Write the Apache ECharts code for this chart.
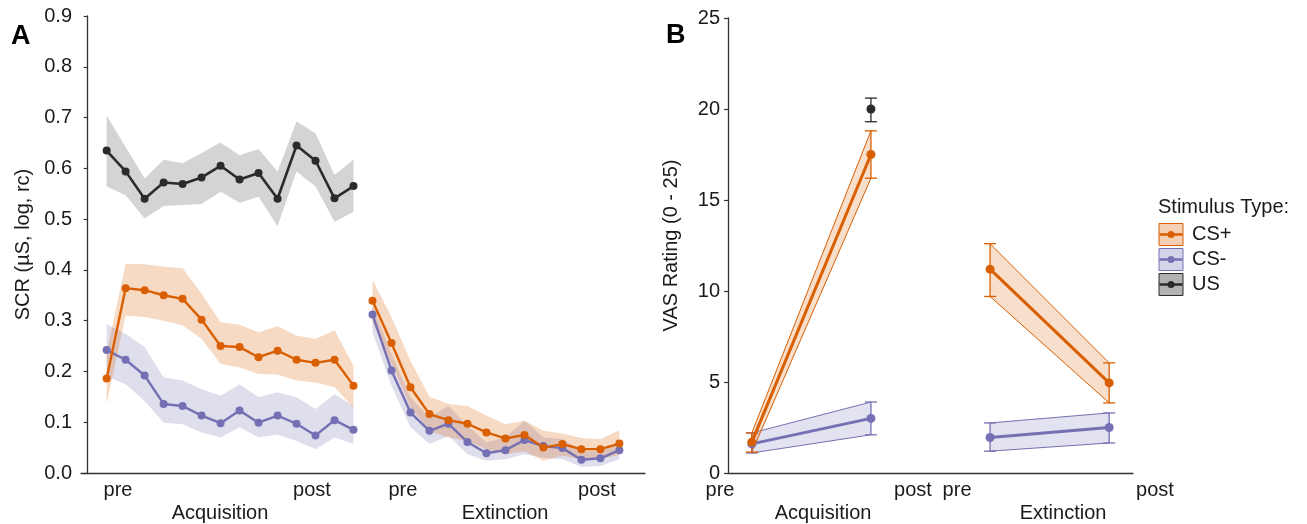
<!DOCTYPE html>
<html>
<head>
<meta charset="utf-8">
<title>SCR and VAS ratings</title>
<script src="https://cdn.jsdelivr.net/npm/echarts@6/dist/echarts.min.js"></script>
<style>
  html, body { margin: 0; padding: 0; background: #ffffff; }
  #chart { width: 1307px; height: 524px; }
</style>
</head>
<body>
<div id="chart"></div>
<script>
// ---------- Panel A: SCR per trial ----------
const acqTrials = [1, 2, 3, 4, 5, 6, 7, 8, 9, 10, 11, 12, 13, 14];
const extTrials = [15, 16, 17, 18, 19, 20, 21, 22, 23, 24, 25, 26, 27, 28];

const scrUsAcq     = [0.635, 0.594, 0.540, 0.572, 0.569, 0.582, 0.605, 0.578, 0.591, 0.540, 0.645, 0.615, 0.541, 0.565];
const scrUsAcqLo   = [0.564, 0.547, 0.501, 0.526, 0.528, 0.530, 0.554, 0.532, 0.544, 0.486, 0.594, 0.564, 0.495, 0.514];
const scrUsAcqHi   = [0.704, 0.642, 0.580, 0.617, 0.610, 0.630, 0.651, 0.626, 0.638, 0.594, 0.692, 0.669, 0.587, 0.617];

const scrCsPlusAcq   = [0.186, 0.364, 0.360, 0.350, 0.343, 0.302, 0.250, 0.248, 0.228, 0.241, 0.223, 0.217, 0.223, 0.172];
const scrCsPlusAcqLo = [0.136, 0.310, 0.307, 0.300, 0.291, 0.264, 0.215, 0.208, 0.195, 0.194, 0.182, 0.178, 0.169, 0.129];
const scrCsPlusAcqHi = [0.237, 0.412, 0.411, 0.406, 0.403, 0.353, 0.297, 0.292, 0.277, 0.289, 0.271, 0.264, 0.281, 0.211];

const scrCsMinusAcq   = [0.242, 0.223, 0.192, 0.136, 0.132, 0.113, 0.098, 0.123, 0.099, 0.113, 0.097, 0.074, 0.104, 0.085];
const scrCsMinusAcqLo = [0.190, 0.175, 0.142, 0.099, 0.096, 0.080, 0.070, 0.090, 0.070, 0.076, 0.063, 0.047, 0.070, 0.057];
const scrCsMinusAcqHi = [0.293, 0.274, 0.248, 0.188, 0.182, 0.165, 0.152, 0.175, 0.149, 0.159, 0.149, 0.126, 0.155, 0.132];

const scrCsPlusExt   = [0.339, 0.256, 0.169, 0.116, 0.104, 0.097, 0.080, 0.068, 0.075, 0.050, 0.057, 0.047, 0.047, 0.058];
const scrCsPlusExtLo = [0.297, 0.215, 0.129, 0.083, 0.070, 0.063, 0.047, 0.037, 0.043, 0.024, 0.034, 0.027, 0.027, 0.036];
const scrCsPlusExtHi = [0.381, 0.307, 0.221, 0.150, 0.136, 0.132, 0.113, 0.096, 0.103, 0.083, 0.078, 0.069, 0.067, 0.084];

const scrCsMinusExt   = [0.312, 0.202, 0.119, 0.083, 0.097, 0.061, 0.039, 0.045, 0.065, 0.053, 0.049, 0.026, 0.029, 0.045];
const scrCsMinusExtLo = [0.277, 0.172, 0.090, 0.057, 0.073, 0.037, 0.024, 0.027, 0.037, 0.030, 0.027, 0.012, 0.014, 0.027];
const scrCsMinusExtHi = [0.330, 0.235, 0.149, 0.109, 0.132, 0.093, 0.060, 0.070, 0.103, 0.070, 0.067, 0.043, 0.043, 0.060];

const scrTickPos    = [1.6, 11.81, 16.6, 26.82];
const scrTickText   = ['pre', 'post', 'pre', 'post'];
const scrPhasePos   = [6.97, 21.98];
const scrPhaseText  = ['Acquisition', 'Extinction'];

// ---------- Panel B: VAS ratings ----------
const vasAcqPos = [1, 2];
const vasExtPos = [3, 4];

const vasCsPlusAcq    = [1.7, 17.5];
const vasCsPlusAcqLo  = [1.15, 16.2];
const vasCsPlusAcqHi  = [2.2, 18.8];
const vasCsMinusAcq   = [1.6, 3.0];
const vasCsMinusAcqLo = [1.1, 2.1];
const vasCsMinusAcqHi = [2.2, 3.9];

const vasUsPos = [2];
const vasUs    = [20.0];
const vasUsLo  = [19.3];
const vasUsHi  = [20.6];

const vasCsPlusExt    = [11.2, 4.95];
const vasCsPlusExtLo  = [9.7, 3.85];
const vasCsPlusExtHi  = [12.6, 6.05];
const vasCsMinusExt   = [1.95, 2.5];
const vasCsMinusExtLo = [1.2, 1.65];
const vasCsMinusExtHi = [2.75, 3.3];

const vasTickPos   = [0.733, 2.353, 2.723, 4.385];
const vasTickText  = ['pre', 'post', 'pre', 'post'];
const vasPhasePos  = [1.598, 3.613];
const vasPhaseText = ['Acquisition', 'Extinction'];

// ---------- Legend ----------
const legendTitle = 'Stimulus Type:';
const legendNames = ['CS+', 'CS-', 'US'];

// ---------- Styling ----------
const FONT = "'Liberation Sans', Arial, sans-serif";
const C_PLUS = '#D95F02';
const C_MINUS = '#7570B3';
const C_US = '#2b2b2b';
const F_PLUS = 'rgba(217,95,2,0.23)';
const F_MINUS = 'rgba(117,112,179,0.23)';
const F_US = 'rgba(0,0,0,0.17)';
const F_PLUS_B = 'rgba(217,95,2,0.2)';
const F_MINUS_B = 'rgba(117,112,179,0.2)';
const legendLine = [C_PLUS, C_MINUS, C_US];
const legendFill = ['rgba(217,95,2,0.3)', 'rgba(117,112,179,0.3)', 'rgba(0,0,0,0.3)'];
const AXIS = '#333333';
const TEXT = '#1a1a1a';

function labelAt(pos, text) {
  return function (v) {
    for (let i = 0; i < pos.length; i++) {
      if (Math.abs(v - pos[i]) < 1e-6) return text[i];
    }
    return '';
  };
}

// Ribbon between lower and upper bounds, drawn once as one polygon
function band(xs, lo, hi, fill, axes, edge) {
  return {
    type: 'custom',
    xAxisIndex: axes[0], yAxisIndex: axes[1],
    silent: true, z: 1,
    data: xs.map((x, i) => [x, lo[i], hi[i]]),
    encode: { x: 0, y: [1, 2] },
    renderItem: function (params, api) {
      if (params.dataIndex !== 0) return null;
      const up = xs.map((x, i) => api.coord([x, hi[i]]));
      const dn = xs.map((x, i) => api.coord([x, lo[i]]));
      const children = [{
        type: 'polygon',
        shape: { points: up.concat(dn.slice().reverse()) },
        style: { fill: fill, stroke: null }
      }];
      if (edge) {
        children.push({ type: 'polyline', shape: { points: up }, style: { stroke: edge, lineWidth: 1, fill: null } });
        children.push({ type: 'polyline', shape: { points: dn }, style: { stroke: edge, lineWidth: 1, fill: null } });
      }
      return { type: 'group', children: children };
    }
  };
}

// Vertical error bars with caps
function errorBars(xs, lo, hi, color, axes) {
  return {
    type: 'custom',
    xAxisIndex: axes[0], yAxisIndex: axes[1],
    silent: true, z: 3,
    data: xs.map((x, i) => [x, lo[i], hi[i]]),
    encode: { x: 0, y: [1, 2] },
    renderItem: function (params, api) {
      const a = api.coord([api.value(0), api.value(1)]);
      const b = api.coord([api.value(0), api.value(2)]);
      const w = 6;
      const st = { stroke: color, lineWidth: 1.3 };
      return {
        type: 'group',
        children: [
          { type: 'line', shape: { x1: a[0], y1: a[1], x2: b[0], y2: b[1] }, style: st },
          { type: 'line', shape: { x1: a[0] - w, y1: a[1], x2: a[0] + w, y2: a[1] }, style: st },
          { type: 'line', shape: { x1: b[0] - w, y1: b[1], x2: b[0] + w, y2: b[1] }, style: st }
        ]
      };
    }
  };
}

function line(xs, ys, color, axes, width, size) {
  return {
    type: 'line',
    xAxisIndex: axes[0], yAxisIndex: axes[1],
    data: xs.map((x, i) => [x, ys[i]]),
    symbol: 'circle', symbolSize: size,
    showSymbol: true,
    lineStyle: { color: color, width: width },
    itemStyle: { color: color },
    z: 4, silent: true
  };
}

const tickLabelStyle = { fontFamily: FONT, fontSize: 20, color: TEXT };

function hiddenAxisBase() {
  return { axisLine: { show: false }, axisTick: { show: false }, splitLine: { show: false } };
}

// Legend keys: filled box, line and dot
const legendGraphics = [{
  type: 'text', left: 1158, top: 197,
  style: { text: legendTitle, font: '20px ' + FONT, fill: TEXT }
}];
legendNames.forEach(function (name, i) {
  const y0 = 223 + i * 25;
  legendGraphics.push({
    type: 'group', left: 1157, top: y0,
    children: [
      { type: 'rect', shape: { x: 0.5, y: 0.5, width: 24, height: 22 }, style: { fill: legendFill[i], stroke: legendLine[i], lineWidth: 1 } },
      { type: 'line', shape: { x1: 1, y1: 11.5, x2: 24, y2: 11.5 }, style: { stroke: legendLine[i], lineWidth: 2.5 } },
      { type: 'circle', shape: { cx: 12.5, cy: 11.5, r: 3.5 }, style: { fill: legendLine[i] } }
    ]
  });
  legendGraphics.push({
    type: 'text', left: 1192, top: y0 + 1,
    style: { text: name, font: '20px ' + FONT, fill: TEXT }
  });
});

const option = {
  animation: false,
  backgroundColor: '#ffffff',
  textStyle: { fontFamily: FONT },
  grid: [
    { left: 81, top: 16, width: 564, height: 457 },
    { left: 728, top: 18, width: 405, height: 455 },
    { left: 704.2, top: 18, width: 476.4, height: 455 }
  ],
  xAxis: [
    {
      gridIndex: 0, type: 'value', min: -0.35, max: 29.35,
      axisLine: { show: true, lineStyle: { color: AXIS, width: 1.3 } },
      axisTick: { show: false }, splitLine: { show: false },
      axisLabel: Object.assign({ customValues: scrTickPos, formatter: labelAt(scrTickPos, scrTickText), margin: 7 }, tickLabelStyle)
    },
    Object.assign(hiddenAxisBase(), {
      gridIndex: 0, type: 'value', min: -0.35, max: 29.35, position: 'bottom', offset: 23,
      axisLabel: Object.assign({ customValues: scrPhasePos, formatter: labelAt(scrPhasePos, scrPhaseText), margin: 7 }, tickLabelStyle)
    }),
    {
      gridIndex: 1, type: 'value', min: 0.8, max: 4.2,
      axisLine: { show: true, lineStyle: { color: AXIS, width: 1.3 } },
      axisTick: { show: false }, splitLine: { show: false }, axisLabel: { show: false }
    },
    Object.assign(hiddenAxisBase(), {
      gridIndex: 2, type: 'value', min: 0.6, max: 4.6,
      axisLabel: Object.assign({ customValues: vasTickPos, formatter: labelAt(vasTickPos, vasTickText), margin: 7 }, tickLabelStyle)
    }),
    Object.assign(hiddenAxisBase(), {
      gridIndex: 2, type: 'value', min: 0.6, max: 4.6, position: 'bottom', offset: 23,
      axisLabel: Object.assign({ customValues: vasPhasePos, formatter: labelAt(vasPhasePos, vasPhaseText), margin: 7 }, tickLabelStyle)
    })
  ],
  yAxis: [
    {
      gridIndex: 0, type: 'value', min: 0, max: 0.9, interval: 0.1,
      axisLine: { show: true, lineStyle: { color: AXIS, width: 1.3 } },
      axisTick: { show: true, length: 4, lineStyle: { color: AXIS, width: 1.2 } },
      splitLine: { show: false },
      axisLabel: Object.assign({ formatter: function (v) { return v.toFixed(1); }, margin: 9 }, tickLabelStyle),
      name: 'SCR (µS, log, rc)', nameLocation: 'middle', nameGap: 48, nameRotate: 90,
      nameTextStyle: { fontFamily: FONT, fontSize: 20, color: TEXT }
    },
    {
      gridIndex: 1, type: 'value', min: 0, max: 25, interval: 5,
      axisLine: { show: true, lineStyle: { color: AXIS, width: 1.3 } },
      axisTick: { show: true, length: 4, lineStyle: { color: AXIS, width: 1.2 } },
      splitLine: { show: false },
      axisLabel: Object.assign({ margin: 8 }, tickLabelStyle),
      name: 'VAS Rating (0 - 25)', nameLocation: 'middle', nameGap: 47, nameRotate: 90,
      nameTextStyle: { fontFamily: FONT, fontSize: 20, color: TEXT }
    },
    Object.assign(hiddenAxisBase(), {
      gridIndex: 2, type: 'value', min: 0, max: 25, axisLabel: { show: false }
    })
  ],
  series: [
    // Panel A ribbons
    band(acqTrials, scrUsAcqLo, scrUsAcqHi, F_US, [0, 0]),
    band(acqTrials, scrCsMinusAcqLo, scrCsMinusAcqHi, F_MINUS, [0, 0]),
    band(acqTrials, scrCsPlusAcqLo, scrCsPlusAcqHi, F_PLUS, [0, 0]),
    band(extTrials, scrCsMinusExtLo, scrCsMinusExtHi, F_MINUS, [0, 0]),
    band(extTrials, scrCsPlusExtLo, scrCsPlusExtHi, F_PLUS, [0, 0]),
    // Panel A lines
    line(acqTrials, scrCsMinusAcq, C_MINUS, [0, 0], 2.4, 8),
    line(extTrials, scrCsMinusExt, C_MINUS, [0, 0], 2.4, 8),
    line(acqTrials, scrCsPlusAcq, C_PLUS, [0, 0], 2.4, 8),
    line(extTrials, scrCsPlusExt, C_PLUS, [0, 0], 2.4, 8),
    line(acqTrials, scrUsAcq, C_US, [0, 0], 2.6, 8),
    // Panel B ribbons
    band(vasAcqPos, vasCsMinusAcqLo, vasCsMinusAcqHi, F_MINUS_B, [2, 1], C_MINUS),
    band(vasAcqPos, vasCsPlusAcqLo, vasCsPlusAcqHi, F_PLUS_B, [2, 1], C_PLUS),
    band(vasExtPos, vasCsMinusExtLo, vasCsMinusExtHi, F_MINUS_B, [2, 1], C_MINUS),
    band(vasExtPos, vasCsPlusExtLo, vasCsPlusExtHi, F_PLUS_B, [2, 1], C_PLUS),
    // Panel B error bars
    errorBars(vasAcqPos, vasCsMinusAcqLo, vasCsMinusAcqHi, C_MINUS, [2, 1]),
    errorBars(vasAcqPos, vasCsPlusAcqLo, vasCsPlusAcqHi, C_PLUS, [2, 1]),
    errorBars(vasExtPos, vasCsMinusExtLo, vasCsMinusExtHi, C_MINUS, [2, 1]),
    errorBars(vasExtPos, vasCsPlusExtLo, vasCsPlusExtHi, C_PLUS, [2, 1]),
    errorBars(vasUsPos, vasUsLo, vasUsHi, C_US, [2, 1]),
    // Panel B lines
    line(vasAcqPos, vasCsMinusAcq, C_MINUS, [2, 1], 3, 9),
    line(vasAcqPos, vasCsPlusAcq, C_PLUS, [2, 1], 3, 9),
    line(vasExtPos, vasCsMinusExt, C_MINUS, [2, 1], 3, 9),
    line(vasExtPos, vasCsPlusExt, C_PLUS, [2, 1], 3, 9),
    line(vasUsPos, vasUs, C_US, [2, 1], 3, 9)
  ],
  graphic: [
    { type: 'text', left: 11, top: 23, style: { text: 'A', font: 'bold 27px ' + FONT, fill: '#000' } },
    { type: 'text', left: 666, top: 22, style: { text: 'B', font: 'bold 27px ' + FONT, fill: '#000' } }
  ].concat(legendGraphics)
};

const chart = echarts.init(document.getElementById('chart'), null, { renderer: 'canvas' });
chart.setOption(option);
</script>
</body>
</html>
